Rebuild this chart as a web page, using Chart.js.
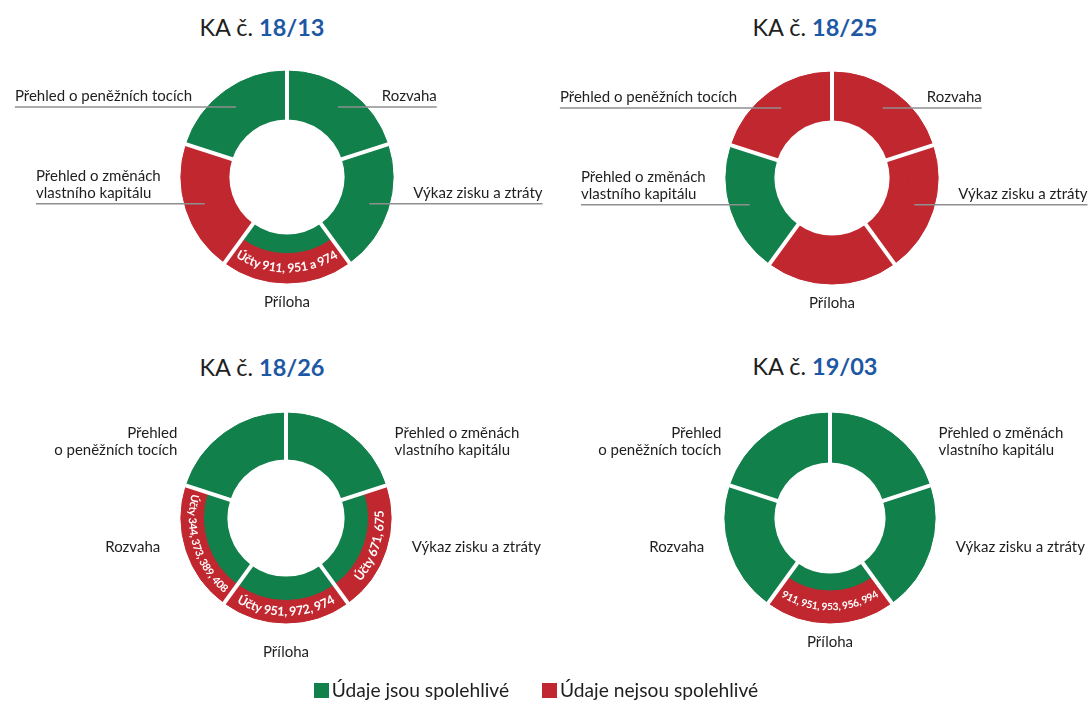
<!DOCTYPE html>
<html lang="cs">
<head>
<meta charset="utf-8">
<title>Spolehlivost údajů v účetních závěrkách</title>
<script src="https://cdn.jsdelivr.net/npm/chart.js@4.4.1/dist/chart.umd.min.js"></script>
<style>
  html, body { margin: 0; padding: 0; background: #fff; }
  body {
    width: 1089px; height: 704px; position: relative; overflow: hidden;
    font-family: Lato, 'Open Sans', sans-serif; color: #1e1e1e;
  }
  .panel { position: absolute; left: 0; width: 1089px; height: 300px; }
  .title {
    position: absolute; font-size: 23.5px; line-height: 28px; white-space: nowrap;
    transform: translateX(-50%);
  }
  .title b { color: #1d58a4; font-weight: 700; }
  .legend {
    position: absolute; left: -17px; right: 0; top: 677px;
    display: flex; justify-content: center; align-items: center; gap: 33px;
    font-size: 19.2px; line-height: 26px; white-space: nowrap;
  }
  .legend .item { display: flex; align-items: center; }
  .legend .box { width: 15px; height: 15px; margin-right: 3px; }
</style>
</head>
<body>

<div class="title" style="left:262px; top:13px">KA č. <b>18/13</b></div>
<div class="title" style="left:815px; top:13px">KA č. <b>18/25</b></div>
<div class="title" style="left:262px; top:353px">KA č. <b>18/26</b></div>
<div class="title" style="left:815px; top:352px">KA č. <b>19/03</b></div>

<canvas id="ka1813" class="panel" width="1089" height="300" style="top:45px"></canvas>
<canvas id="ka1825" class="panel" width="1089" height="300" style="top:45px"></canvas>
<canvas id="ka1826" class="panel" width="1089" height="300" style="top:385px"></canvas>
<canvas id="ka1903" class="panel" width="1089" height="300" style="top:385px"></canvas>

<div class="legend">
  <span class="item"><span class="box" id="okBox"></span><span>Údaje jsou spolehlivé</span></span>
  <span class="item"><span class="box" id="badBox"></span><span>Údaje nejsou spolehlivé</span></span>
</div>

<script>
// statements in each ring, clockwise from 12 o'clock
const labels1813 = ['Rozvaha', 'Výkaz zisku a ztráty', 'Příloha', ['Přehled o změnách', 'vlastního kapitálu'], 'Přehled o peněžních tocích'];
const labels1825 = labels1813;
const labels1826 = [['Přehled o změnách', 'vlastního kapitálu'], 'Výkaz zisku a ztráty', 'Příloha', 'Rozvaha', ['Přehled', 'o peněžních tocích']];
const labels1903 = labels1826;

// every statement takes the same share of the ring
const shares = [1, 1, 1, 1, 1];

// 1 = údaje jsou spolehlivé, 0 = nejsou; outer band / inner band
const outer1813 = [1, 1, 0, 0, 1];
const inner1813 = [1, 1, 1, 0, 1];
const outer1825 = [0, 0, 0, 1, 0];
const inner1825 = [0, 0, 0, 1, 0];
const outer1826 = [1, 0, 0, 0, 1];
const inner1826 = [1, 1, 1, 1, 1];
const outer1903 = [1, 1, 0, 1, 1];
const inner1903 = [1, 1, 1, 1, 1];

// accounts written into the red band
const notes1813 = ['', '', 'Účty 911, 951 a 974', '', ''];
const notes1825 = ['', '', '', '', ''];
const notes1826 = ['', 'Účty 671, 675', 'Účty 951, 972, 974', 'Účty 344, 373, 389, 408', ''];
const notes1903 = ['', '', '911, 951, 953, 956, 994', '', ''];

const GREEN = '#12804b';
const RED = '#c1272f';
const paint = ok => ok ? GREEN : RED;

document.getElementById('okBox').style.background = GREEN;
document.getElementById('badBox').style.background = RED;

// inner band gets a wider same-colour border so no seam shows under the outer band
const OUTER_BORDER = 1;
const INNER_BORDER = 3;

// text along an arc, read counter-clockwise with letter tops towards the centre
function arcText(ctx, text, cx, cy, r, midAngle, tracking) {
  const adv = [...text].map(ch => ctx.measureText(ch).width + tracking);
  const total = adv.reduce((s, w) => s + w, 0) - tracking;
  let a = midAngle + total / 2 / r;
  [...text].forEach((ch, k) => {
    const w = adv[k] - tracking;
    const ca = a - w / 2 / r;
    ctx.save();
    ctx.translate(cx + Math.cos(ca) * r, cy + Math.sin(ca) * r);
    ctx.rotate(ca - Math.PI / 2);
    ctx.fillText(ch, 0, 0);
    ctx.restore();
    a -= adv[k] / r;
  });
  return total;
}

const ringGaps = {
  id: 'ringGaps',
  afterDatasetsDraw(chart, args, opts) {
    const ctx = chart.ctx;
    const outerArcs = chart.getDatasetMeta(0).data;
    const innerArcs = chart.getDatasetMeta(1).data;
    ctx.save();
    ctx.fillStyle = '#fff';
    ctx.textAlign = 'center';
    ctx.textBaseline = 'middle';
    (opts.notes || []).forEach((note, i) => {
      if (!note) return;
      const arc = outerArcs[i];
      const rMid = (arc.innerRadius + arc.outerRadius) / 2;
      const room = (arc.endAngle - arc.startAngle) * rMid - 10;
      let size = opts.noteSize;
      ctx.font = `bold ${size}px Lato`;
      const width = [...note].reduce((s, ch) => s + ctx.measureText(ch).width + opts.tracking, -opts.tracking);
      if (width > room) {
        size = size * room / width;
        ctx.font = `bold ${size.toFixed(2)}px Lato`;
      }
      arcText(ctx, note, arc.x, arc.y, rMid, (arc.startAngle + arc.endAngle) / 2, opts.tracking);
    });
    // white cuts between statements
    ctx.strokeStyle = '#fff';
    ctx.lineWidth = opts.width;
    outerArcs.forEach((arc, i) => {
      const r0 = innerArcs[i].innerRadius - 3;
      const r1 = arc.outerRadius + 3;
      const a = arc.startAngle;
      ctx.beginPath();
      ctx.moveTo(arc.x + Math.cos(a) * r0, arc.y + Math.sin(a) * r0);
      ctx.lineTo(arc.x + Math.cos(a) * r1, arc.y + Math.sin(a) * r1);
      ctx.stroke();
    });
    ctx.restore();
  }
};

const sliceLabels = {
  id: 'sliceLabels',
  afterDraw(chart, args, opts) {
    const ctx = chart.ctx;
    const outerArcs = chart.getDatasetMeta(0).data;
    const innerArcs = chart.getDatasetMeta(1).data;
    const lh = opts.lineHeight;
    ctx.save();
    ctx.font = opts.font;
    ctx.fillStyle = opts.color;
    outerArcs.forEach((arc, i) => {
      const lines = [].concat(chart.data.labels[i]);
      const mid = (arc.startAngle + arc.endAngle) / 2;
      const cos = Math.cos(mid), sin = Math.sin(mid);
      const R = arc.outerRadius, r = innerArcs[i].innerRadius;
      if (Math.abs(cos) < 0.3) {
        // bottom slice: name centred below the ring
        ctx.textAlign = 'center';
        ctx.textBaseline = 'top';
        lines.forEach((t, k) => ctx.fillText(t, arc.x, arc.y + R + opts.below + k * lh));
        return;
      }
      const side = Math.sign(cos);
      const widest = Math.max(...lines.map(t => ctx.measureText(t).width));
      if (opts.leader) {
        const ar = (R + r) / 2 + 4;
        const ax = arc.x + cos * ar, ay = arc.y + sin * ar;
        const ex = ax + side * (opts.gap + widest);
        ctx.strokeStyle = opts.lineColor;
        ctx.lineWidth = 1.5;
        ctx.beginPath();
        ctx.moveTo(ax, ay);
        ctx.lineTo(ex, ay);
        ctx.stroke();
        ctx.textAlign = side > 0 ? 'right' : 'left';
        ctx.textBaseline = 'alphabetic';
        lines.forEach((t, k) => ctx.fillText(t, ex, ay - 6 - (lines.length - 1 - k) * lh));
      } else {
        const y = arc.y + sin * R * 0.9;
        const x = arc.x + cos * R * 0.45 + side * R * 0.77;
        ctx.textAlign = side > 0 ? 'left' : 'right';
        ctx.textBaseline = 'middle';
        lines.forEach((t, k) => ctx.fillText(t, x, y + (k - (lines.length - 1) / 2) * lh));
      }
    });
    ctx.restore();
  }
};

// padding that puts a ring of outer radius R centred on (cx, cy) of its canvas
function ringPadding(cx, cy, R) {
  const size = 2 * R + INNER_BORDER;
  const left = cx - R - INNER_BORDER / 2;
  const top = cy - R - INNER_BORDER / 2;
  return { left: left, top: top, right: 1089 - left - size, bottom: 300 - top - size };
}

function drawRing(id, cfg) {
  // hole radius is cut by half of the inner border, so widen the cutout to match
  const cutout = (cfg.hole + INNER_BORDER / 2) / cfg.R * 100 + '%';
  return new Chart(document.getElementById(id), {
    type: 'doughnut',
    data: {
      labels: cfg.labels,
      datasets: [
        { data: shares, weight: cfg.weights[0], borderWidth: OUTER_BORDER,
          backgroundColor: cfg.outer.map(paint), borderColor: cfg.outer.map(paint) },
        { data: shares, weight: cfg.weights[1], borderWidth: INNER_BORDER,
          backgroundColor: cfg.inner.map(paint), borderColor: cfg.inner.map(paint) }
      ]
    },
    options: {
      responsive: false,
      animation: false,
      events: [],
      cutout: cutout,
      layout: { padding: ringPadding(cfg.cx, cfg.cy, cfg.R) },
      plugins: {
        legend: { display: false },
        tooltip: { enabled: false },
        ringGaps: { width: 4, notes: cfg.notes, noteSize: 12.5, tracking: -0.4 },
        sliceLabels: {
          font: '15px Lato', color: '#1e1e1e', lineColor: '#8f8f8f', lineHeight: 17,
          leader: cfg.leader, gap: 44, below: cfg.below
        }
      }
    },
    plugins: [ringGaps, sliceLabels]
  });
}

drawRing('ka1813', { labels: labels1813, outer: outer1813, inner: inner1813, notes: notes1813,
  weights: [5, 3], cx: 287, cy: 132, R: 105, hole: 57, leader: true, below: 12 });
drawRing('ka1825', { labels: labels1825, outer: outer1825, inner: inner1825, notes: notes1825,
  weights: [5, 3], cx: 832, cy: 133, R: 105, hole: 57, leader: true, below: 12 });
drawRing('ka1826', { labels: labels1826, outer: outer1826, inner: inner1826, notes: notes1826,
  weights: [1, 1], cx: 286, cy: 133, R: 104, hole: 58, leader: false, below: 22 });
drawRing('ka1903', { labels: labels1903, outer: outer1903, inner: inner1903, notes: notes1903,
  weights: [2, 1], cx: 830, cy: 133, R: 104, hole: 55, leader: false, below: 12 });
</script>
</body>
</html>
